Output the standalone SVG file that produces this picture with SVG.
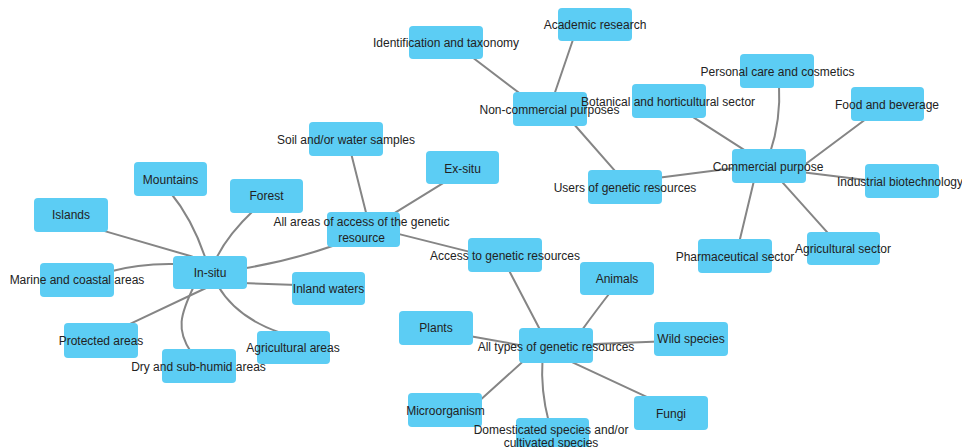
<svg xmlns="http://www.w3.org/2000/svg" width="962" height="447" viewBox="0 0 962 447">
<style>
.n rect{fill:#5ccdf4;}
.n text{font-family:"Liberation Sans",Arial,sans-serif;font-size:12px;fill:#222;text-anchor:middle;}
#edges path{fill:none;stroke:#858585;stroke-width:2;stroke-linecap:round;}
</style>
<rect width="962" height="447" fill="#ffffff"/>
<g id="edges">
<path d="M103,230.6 L192,256.5"/>
<path d="M170,192 Q193,220 206,260"/>
<path d="M254,210 Q227,235.5 216,259"/>
<path d="M110,271.5 Q140,263 177,264"/>
<path d="M242,283 L297,285"/>
<path d="M206,288 L128,324.8"/>
<path d="M194,286 C180,315 176,330 191,352"/>
<path d="M218,286 Q237,318 281,333"/>
<path d="M243,268.5 Q287.5,261.5 334,245.5"/>
<path d="M350.5,151 L367.2,217.2"/>
<path d="M444.3,182.4 L392.4,214.3"/>
<path d="M395.2,233.1 L473.8,252.9"/>
<path d="M471,56.3 L522.3,95.3"/>
<path d="M573.9,37 L553.4,97"/>
<path d="M573.4,123.5 L617.6,173.8"/>
<path d="M656.7,177.9 L736.7,167.7"/>
<path d="M690.8,115.6 L746.9,151.7"/>
<path d="M779,84 Q781,120 770,153"/>
<path d="M867.3,118 L802.7,166.3"/>
<path d="M800.7,172.1 L870,180.6"/>
<path d="M754.5,178.4 L738.8,243.9"/>
<path d="M780,179.6 L830,235.4"/>
<path d="M507.7,267.9 L541.6,332.7"/>
<path d="M611.3,291 Q598,308 580.3,332.3"/>
<path d="M467.8,335.8 L524.2,345.9"/>
<path d="M588.3,344.2 L659,341.5"/>
<path d="M478.6,401.6 L525.4,359.3"/>
<path d="M648.8,397.8 L568.8,360.6"/>
<path d="M548.8,422 Q540.5,390.5 542.5,359"/>
</g>
<g id="n-islands" class="n"><rect x="34" y="198" width="74" height="34" rx="4"/><text x="71" y="219">Islands</text></g>
<g id="n-mountains" class="n"><rect x="134" y="162" width="73" height="34" rx="4"/><text x="170.5" y="183.5">Mountains</text></g>
<g id="n-forest" class="n"><rect x="230" y="179" width="73" height="34" rx="4"/><text x="266.5" y="200">Forest</text></g>
<g id="n-insitu" class="n"><rect x="173" y="256" width="74" height="33" rx="4"/><text x="210" y="277">In-situ</text></g>
<g id="n-marine" class="n"><rect x="40" y="263" width="74" height="34" rx="4"/><text x="77" y="284">Marine and coastal areas</text></g>
<g id="n-inland" class="n"><rect x="292" y="272" width="73" height="33" rx="4"/><text x="328.5" y="293">Inland waters</text></g>
<g id="n-protected" class="n"><rect x="64" y="323" width="74" height="35" rx="4"/><text x="101" y="345">Protected areas</text></g>
<g id="n-dry" class="n"><rect x="162" y="349" width="74" height="34" rx="4"/><text x="198.5" y="371">Dry and sub-humid areas</text></g>
<g id="n-agriareas" class="n"><rect x="257" y="331" width="73" height="33" rx="4"/><text x="293" y="352">Agricultural areas</text></g>
<g id="n-soil" class="n"><rect x="309" y="122" width="74" height="34" rx="4"/><text x="346" y="144">Soil and/or water samples</text></g>
<g id="n-exsitu" class="n"><rect x="426" y="151" width="73" height="33" rx="4"/><text x="462.5" y="172.5">Ex-situ</text></g>
<g id="n-allareas" class="n"><rect x="327" y="212" width="73" height="35" rx="4"/><text x="361.5" y="226">All areas of access of the genetic</text><text x="361.5" y="241.5">resource</text></g>
<g id="n-access" class="n"><rect x="468" y="238" width="74" height="34" rx="4"/><text x="505" y="260">Access to genetic resources</text></g>
<g id="n-users" class="n"><rect x="588" y="170" width="74" height="34" rx="4"/><text x="625" y="192">Users of genetic resources</text></g>
<g id="n-noncomm" class="n"><rect x="513" y="92" width="74" height="34" rx="4"/><text x="549.5" y="114">Non-commercial purposes</text></g>
<g id="n-ident" class="n"><rect x="409" y="26" width="74" height="33" rx="4"/><text x="446" y="47">Identification and taxonomy</text></g>
<g id="n-academic" class="n"><rect x="558" y="8" width="74" height="33" rx="4"/><text x="595" y="29">Academic research</text></g>
<g id="n-commercial" class="n"><rect x="732" y="149" width="74" height="34" rx="4"/><text x="768" y="171">Commercial purpose</text></g>
<g id="n-personal" class="n"><rect x="740" y="54" width="74" height="34" rx="4"/><text x="777.5" y="76">Personal care and cosmetics</text></g>
<g id="n-botanical" class="n"><rect x="632" y="84" width="74" height="34" rx="4"/><text x="668" y="106">Botanical and horticultural sector</text></g>
<g id="n-food" class="n"><rect x="851" y="87" width="73" height="34" rx="4"/><text x="887" y="109">Food and beverage</text></g>
<g id="n-industrial" class="n"><rect x="865" y="164" width="74" height="34" rx="4"/><text x="900" y="186">Industrial biotechnology</text></g>
<g id="n-pharma" class="n"><rect x="698" y="239" width="74" height="34" rx="4"/><text x="735" y="261">Pharmaceutical sector</text></g>
<g id="n-agrisector" class="n"><rect x="807" y="232" width="73" height="33" rx="4"/><text x="843" y="253">Agricultural sector</text></g>
<g id="n-animals" class="n"><rect x="580" y="262" width="74" height="33" rx="4"/><text x="617" y="283">Animals</text></g>
<g id="n-plants" class="n"><rect x="399" y="311" width="74" height="34" rx="4"/><text x="436" y="332">Plants</text></g>
<g id="n-alltypes" class="n"><rect x="519" y="328" width="74" height="35" rx="4"/><text x="556" y="351">All types of genetic resources</text></g>
<g id="n-wild" class="n"><rect x="654" y="322" width="74" height="34" rx="4"/><text x="691" y="343">Wild species</text></g>
<g id="n-micro" class="n"><rect x="408" y="393" width="74" height="34" rx="4"/><text x="445.5" y="415">Microorganism</text></g>
<g id="n-fungi" class="n"><rect x="634" y="396" width="74" height="34" rx="4"/><text x="671" y="418">Fungi</text></g>
<g id="n-domest" class="n"><rect x="516" y="418" width="73" height="34" rx="4"/><text x="551" y="433.5">Domesticated species and/or</text><text x="551" y="447">cultivated species</text></g>
</svg>
